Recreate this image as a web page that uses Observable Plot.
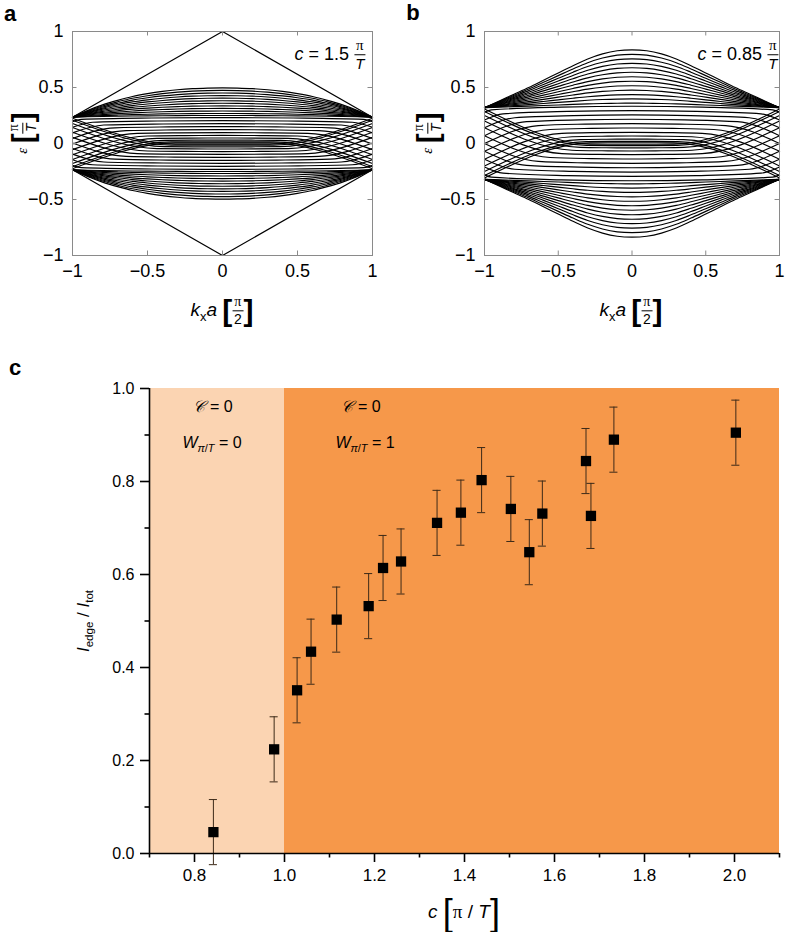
<!DOCTYPE html>
<html><head><meta charset="utf-8">
<script src="https://cdn.jsdelivr.net/npm/d3@7"></script>
<script src="https://cdn.jsdelivr.net/npm/@observablehq/plot@0.6"></script>
<style>
body{margin:0;background:#fff;}
#root{position:relative;width:786px;height:932px;overflow:hidden;font-family:"Liberation Sans",Arial,Helvetica,sans-serif;color:#000;}
.plot{position:absolute;}
.plot svg{overflow:visible;}
.lbl{position:absolute;transform:translate(-50%,-50%);white-space:nowrap;line-height:1;}
.rot{transform:translate(-50%,-50%) rotate(-90deg);}
.frac{display:inline-flex;flex-direction:column;align-items:center;vertical-align:middle;line-height:1.05;}
.frac .num{border-bottom:1.3px solid #000;padding:0 2px 0px;}
.frac .den{padding-top:1px;}
.brk{display:inline-block;vertical-align:middle;line-height:1;}
.serif{font-family:"Liberation Serif","DejaVu Serif",serif;}
sub{font-size:0.68em;vertical-align:-0.35em;line-height:0;}
</style></head>
<body><div id="root"></div>
<script>
// ---------------- Panel a (c = 1.5 π/T) ----------------
const kGrid = [0, 0.1, 0.2, 0.3, 0.4, 0.5, 0.6, 0.7, 0.8, 0.9, 1.0];
const aTopProfile = [0.497, 0.495, 0.49, 0.48, 0.465, 0.445, 0.42, 0.385, 0.345, 0.295, 0.235];
const aUpperLevels = [0.497, 0.474, 0.451, 0.428, 0.405, 0.382, 0.359, 0.336, 0.313, 0.29, 0.268, 0.25];
const aLowerLevels = [0.215, 0.19, 0.165, 0.14, 0.115, 0.09, 0.067, 0.046, 0.028, 0.014, 0.005];
const aLowerBow = 0.018;
const aEdgeValue = 0.235;
const aCrossK = 0.30;
const aEdgeStateK = [-1, 0, 1];
const aEdgeStateE = [0.235, 1, 0.235];

// ---------------- Panel b (c = 0.85 π/T) ----------------
const bTopProfile = [0.836, 0.828, 0.80, 0.755, 0.695, 0.63, 0.565, 0.5, 0.44, 0.38, 0.32];
const bUpperLevels = [0.836, 0.796, 0.756, 0.716, 0.676, 0.636, 0.596, 0.556, 0.516, 0.476, 0.436, 0.398, 0.36];
const bLowerLevels = [0.30, 0.265, 0.23, 0.195, 0.16, 0.125, 0.09, 0.06, 0.035, 0.017, 0.006];
const bLowerBow = 0.035;
const bEdgeValue = 0.32;
const bCrossK = 0.27;

const bandTicks = [-1, -0.5, 0, 0.5, 1];

// ---------------- Panel c ----------------
const cValues = [0.842, 0.977, 1.028, 1.059, 1.116, 1.187, 1.219, 1.259, 1.339, 1.392, 1.438, 1.503, 1.544, 1.573, 1.670, 1.681, 1.732, 2.003];
const edgeRatio = [0.046, 0.224, 0.351, 0.434, 0.503, 0.532, 0.614, 0.628, 0.711, 0.733, 0.803, 0.741, 0.648, 0.731, 0.844, 0.726, 0.890, 0.905];
const ratioError = [0.07, 0.07, 0.07, 0.07, 0.07, 0.07, 0.07, 0.07, 0.07, 0.07, 0.07, 0.07, 0.07, 0.07, 0.07, 0.07, 0.07, 0.07];
const regionStart = [0.7, 1.0];
const regionEnd = [1.0, 2.1];
const regionColor = ["#fbd4b2", "#f6984a"];
const cMajorTicks = [0.8, 1.0, 1.2, 1.4, 1.6, 1.8, 2.0];
const cMinorTicks = [0.7, 0.9, 1.1, 1.3, 1.5, 1.7, 1.9, 2.1];
const rMajorTicks = [0, 0.2, 0.4, 0.6, 0.8, 1.0];
const rMinorTicks = [0.1, 0.3, 0.5, 0.7, 0.9];

// ---------------- helpers ----------------
function bandRows(profile, upper, lower, E, kc, bow) {
  const up = [], low = [];
  let id = 0;
  const top = profile[0];
  for (const L of upper) {
    for (const s of [1, -1]) {
      const half = kGrid.map((k, j) => [k, E + (L - E) / (top - E) * (profile[j] - E)]);
      const full = half.slice(1).reverse().map(([k, e]) => [-k, e]).concat(half);
      for (const [k, e] of full) up.push({id, k, e: s * e});
      id++;
    }
  }
  for (const L of lower) {
    for (const s of [1, -1]) {
      const kx = kc + (1 - kc) * L / E;
      const end = 2 * L - E;
      const peak = L + bow * L / E;
      for (const [k, e] of [[-1, end], [-kx, L], [-kx / 2, (L + peak) / 2 + bow * L / E * 0.25], [0, peak], [kx / 2, (L + peak) / 2 + bow * L / E * 0.25], [kx, L], [1, end]])
        low.push({id, k, e: s * e});
      id++;
    }
  }
  return {up, low};
}
const fmtMinus = d => d === 0 ? "0" : (d < 0 ? "\u2212" : "") + Math.abs(d);
const gray = "#8a8a8a";

function bandPlot(rows, extra) {
  return Plot.plot({
    width: 393, height: 330, marginTop: 31, marginBottom: 75,
    marginLeft: extra.ml, marginRight: extra.mr,
    x: {domain: [-1, 1], label: null},
    y: {domain: [-1, 1], label: null},
    style: {fontFamily: "Liberation Sans, Arial, sans-serif", fontSize: "18px", color: "#000", background: "transparent", overflow: "visible"},
    marks: [
      Plot.line(rows.up, {x: "k", y: "e", z: "id", curve: "catmull-rom", stroke: "#000", strokeWidth: 1.15}),
      Plot.line(rows.low, {x: "k", y: "e", z: "id", curve: "monotone-x", stroke: "#000", strokeWidth: 1.15}),
      ...(extra.marks || []),
      Plot.frame({stroke: gray, strokeWidth: 1}),
      Plot.ruleX(bandTicks.slice(1, -1), {x: d => d, y1: -1, y2: -0.96, stroke: gray}),
      Plot.ruleX(bandTicks.slice(1, -1), {x: d => d, y1: 1, y2: 0.96, stroke: gray}),
      Plot.ruleY(bandTicks.slice(1, -1), {y: d => d, x1: -1, x2: -0.97, stroke: gray}),
      Plot.ruleY(bandTicks.slice(1, -1), {y: d => d, x1: 1, x2: 0.97, stroke: gray}),
      Plot.axisX({ticks: bandTicks, tickSize: 0, tickPadding: 9, tickFormat: fmtMinus, label: null}),
      Plot.axisY({ticks: bandTicks, tickSize: 0, tickPadding: 9, tickFormat: fmtMinus, label: null})
    ]
  });
}

const root = document.getElementById("root");
function place(node, left, top) {
  const d = document.createElement("div");
  d.className = "plot";
  d.style.left = left + "px"; d.style.top = top + "px";
  d.appendChild(node);
  root.appendChild(d);
}
function label(html, x, y, style = "", cls = "") {
  const d = document.createElement("div");
  d.className = "lbl " + cls;
  d.style.left = x + "px"; d.style.top = y + "px";
  d.style.cssText += style;
  d.innerHTML = html;
  root.appendChild(d);
}

// ---------------- Panel a ----------------
const rowsA = bandRows(aTopProfile, aUpperLevels, aLowerLevels, aEdgeValue, aCrossK, aLowerBow);
const edgeRows = [];
for (const s of [1, -1]) aEdgeStateK.forEach((k, i) => edgeRows.push({id: s, k, e: s * aEdgeStateE[i]}));
place(bandPlot(rowsA, {ml: 72, mr: 21, marks: [
  Plot.line(edgeRows, {x: "k", y: "e", z: "id", stroke: "#000", strokeWidth: 1.2})
]}), 0, 0);

// ---------------- Panel b ----------------
const rowsB = bandRows(bTopProfile, bUpperLevels, bLowerLevels, bEdgeValue, bCrossK, bLowerBow);
place(bandPlot(rowsB, {ml: 91, mr: 7}), 393, 0);

// ---------------- Panel c ----------------
const points = cValues.map((c, i) => ({c, r: edgeRatio[i], err: ratioError[i]}));
const regions = regionStart.map((x1, i) => ({x1, x2: regionEnd[i], fill: regionColor[i]}));
const errColor = "#3d2a18";
const plotC = Plot.plot({
  width: 786, height: 602, marginLeft: 149, marginRight: 7, marginTop: 58, marginBottom: 79,
  x: {domain: [0.7, 2.1], label: null},
  y: {domain: [0, 1], label: null},
  color: {type: "identity"},
  style: {fontFamily: "Liberation Sans, Arial, sans-serif", fontSize: "16px", color: "#000", background: "transparent", overflow: "visible"},
  marks: [
    Plot.rect(regions, {x1: "x1", x2: "x2", y1: 0, y2: 1, fill: "fill"}),
    Plot.ruleX(points, {x: "c", y1: d => d.r - d.err, y2: d => d.r + d.err, stroke: errColor, strokeWidth: 1}),
    Plot.ruleY(points, {y: d => d.r + d.err, x1: d => d.c - 0.009, x2: d => d.c + 0.009, stroke: errColor, strokeWidth: 1}),
    Plot.ruleY(points, {y: d => d.r - d.err, x1: d => d.c - 0.009, x2: d => d.c + 0.009, stroke: errColor, strokeWidth: 1}),
    Plot.dot(points, {x: "c", y: "r", symbol: "square", r: 5.8, fill: "#000", stroke: null}),
    Plot.axisY({ticks: rMajorTicks, tickSize: 9, tickPadding: 6, tickFormat: d3.format(".1f"), strokeWidth: 1.6, label: null}),
    Plot.axisY({ticks: rMinorTicks, tickSize: 4.5, tickFormat: () => "", strokeWidth: 1.6, label: null}),
    Plot.axisX({ticks: cMajorTicks, tickSize: 9, tickPadding: 6, tickFormat: d3.format(".1f"), strokeWidth: 1.6, fontSize: 17, label: null}),
    Plot.axisX({ticks: cMinorTicks, tickSize: 4.5, tickFormat: () => "", strokeWidth: 1.6, label: null}),
    Plot.ruleX([0.7], {stroke: "#000", strokeWidth: 1.6}),
    Plot.ruleY([0], {stroke: "#000", strokeWidth: 1.6})
  ]
});
place(plotC, 0, 330);

// ---------------- Texts ----------------
const boldPanel = "font-weight:bold;font-size:22px;";
label("a", 10, 14, boldPanel);
label("b", 413, 13, boldPanel);
label("c", 15, 368, boldPanel);

const fracPT = (fs) => `<span class="frac" style="font-size:${fs}px"><span class="num serif">π</span><span class="den"><i>T</i></span></span>`;
const fracP2 = (fs) => `<span class="frac" style="font-size:${fs}px"><span class="num serif">π</span><span class="den">2</span></span>`;
const brk = (ch, fs, w) => `<span class="brk" style="font-size:${fs}px;font-weight:${w}">${ch}</span>`;

label(`<i>c</i> = 1.5 ${fracPT(15)}`, 330, 55, "font-size:18px;");
label(`<i>c</i> = 0.85 ${fracPT(15)}`, 738, 55, "font-size:18px;");

const yLab = `<i class="serif" style="font-size:15px">ε</i> ${brk("[", 30, "bold")}${fracPT(14)}${brk("]", 30, "bold")}`;
label(yLab, 23, 133, "", "rot");
label(yLab, 428, 133, "", "rot");
const xLab = `<i>k</i><sub>x</sub><i>a</i> ${brk("[", 30, "bold")}${fracP2(14)}${brk("]", 30, "bold")}`;
label(xLab, 222, 311, "font-size:19px;");
label(xLab, 631, 311, "font-size:19px;");

const Cal = `<span class="serif" style="font-style:italic">𝒞</span>`;
label(`${Cal} = 0`, 213, 407, "font-size:16px;");
label(`${Cal} = 0`, 361, 407, "font-size:16px;");
label(`<i>W</i><sub><i>π</i>/<i>T</i></sub> = 0`, 212, 443, "font-size:16px;");
label(`<i>W</i><sub><i>π</i>/<i>T</i></sub> = 1`, 365, 443, "font-size:16px;");

label(`<i>I</i><sub>edge</sub> / <i>I</i><sub>tot</sub>`, 83, 621, "font-size:17px;", "rot");
label(`<i>c</i> ${brk("[", 36, "200")}<span class="serif">π</span> / <i>T</i>${brk("]", 36, "200")}`, 464, 913, "font-size:19px;");
</script>
</body></html>
